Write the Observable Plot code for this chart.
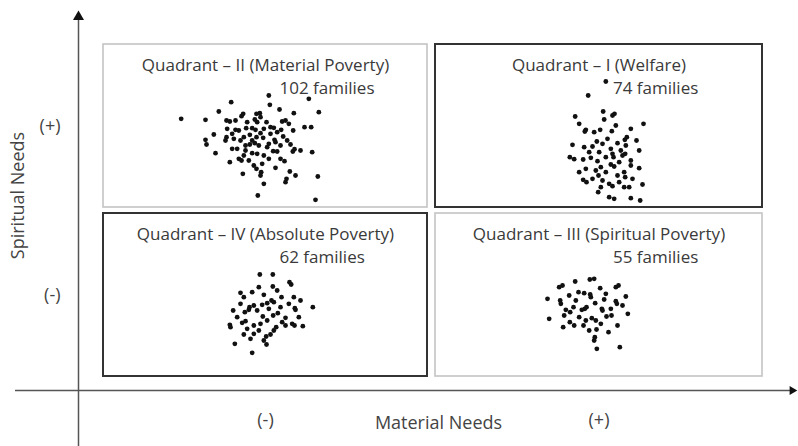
<!DOCTYPE html>
<html><head><meta charset="utf-8">
<script src="https://cdn.jsdelivr.net/npm/d3@7"></script>
<script src="https://cdn.jsdelivr.net/npm/@observablehq/plot@0.6"></script>
<style>body{margin:0;background:#fff} svg{display:block}</style>
</head><body><div id="chart"></div>
<script>
// ---- data ----
const quadrantTitles = ["Quadrant – II (Material Poverty)", "Quadrant – I (Welfare)", "Quadrant – IV (Absolute Poverty)", "Quadrant – III (Spiritual Poverty)"];
const familyCounts = [102, 74, 62, 55];
const materialLevel = ["(-)", "(+)", "(-)", "(+)"];
const spiritualLevel = ["(+)", "(+)", "(-)", "(-)"];
const emphasised = [false, true, true, false];
// score ranges covered by each level (arbitrary score units, origin at the axes)
const materialRange = {"(-)": [75, 1047], "(+)": [1071, 2052]};
const spiritualRange = {"(+)": [549, 1038], "(-)": [42, 531]};
const axisTicks = ["(-)", "(+)"];

// [material score, spiritual score] of each family
const q2Families = [[308,815],[381,812],[421,837],[458,865],[571,885],[574,857],[603,843],[691,875],[721,835],[646,832],[494,830],[489,823],[534,830],[544,832],[529,813],[564,805],[611,807],[621,810],[444,810],[454,807],[406,768],[446,785],[444,760],[471,782],[481,780],[503,787],[521,787],[531,782],[586,788],[608,782],[644,780],[678,790],[698,790],[381,752],[384,738],[466,755],[496,760],[486,750],[514,767],[546,772],[554,758],[576,770],[614,762],[588,752],[636,738],[648,724],[643,717],[514,738],[529,742],[541,735],[571,740],[476,725],[501,720],[521,712],[536,710],[556,705],[584,718],[596,717],[411,712],[701,715],[454,685],[481,695],[489,690],[511,690],[551,680],[618,688],[534,665],[548,655],[546,645],[591,668],[634,657],[651,645],[624,635],[621,625],[493,650],[556,620],[718,642],[538,585],[711,572],[566,730],[591,745],[506,805],[471,810],[626,750],[534,760],[461,770],[441,750],[521,750],[576,790],[596,775],[556,785],[501,735],[536,805],[606,735],[461,725],[571,695],[526,675],[606,695],[666,720],[496,705],[631,800],[546,820]];
const q1Families = [[1582,927],[1529,885],[1490,822],[1574,837],[1577,813],[1602,825],[1608,830],[1695,800],[1522,782],[1519,777],[1565,782],[1600,778],[1657,785],[1645,760],[1639,752],[1482,737],[1517,730],[1555,747],[1572,740],[1597,725],[1617,742],[1642,735],[1682,720],[1474,700],[1487,694],[1514,693],[1537,698],[1562,715],[1557,688],[1602,710],[1605,700],[1632,705],[1640,710],[1657,690],[1657,675],[1682,667],[1522,665],[1552,660],[1560,645],[1597,678],[1607,672],[1617,645],[1637,655],[1640,640],[1514,632],[1524,625],[1572,630],[1592,620],[1602,613],[1637,610],[1692,618],[1559,595],[1592,580],[1607,575],[1657,577],[1685,570],[1542,732],[1582,700],[1567,670],[1622,685],[1532,715],[1587,755],[1547,775],[1627,720],[1582,655],[1567,610],[1622,625],[1502,655],[1662,635],[1542,635],[1674,750],[1502,800],[1612,795],[1652,610]];
const q4Families = [[544,348],[583,348],[583,312],[633,325],[638,318],[486,293],[521,295],[556,287],[579,270],[609,280],[646,280],[703,250],[649,247],[651,242],[464,240],[499,235],[513,250],[526,255],[551,257],[566,262],[586,265],[511,242],[553,222],[584,225],[598,232],[621,218],[454,197],[456,190],[491,203],[501,208],[526,195],[541,180],[496,168],[526,170],[563,162],[576,168],[593,190],[621,195],[641,200],[648,195],[673,193],[469,140],[521,113],[564,138],[536,240],[566,210],[611,205],[476,220],[506,185],[571,245],[596,300],[631,260],[546,200],[661,220],[516,155],[586,180],[541,310],[486,260],[606,250],[496,280],[556,150],[666,270]];
const q3Families = [[1407,275],[1412,215],[1442,310],[1452,315],[1490,327],[1534,333],[1547,335],[1565,307],[1612,310],[1620,315],[1642,282],[1445,270],[1447,260],[1472,285],[1500,295],[1517,292],[1535,288],[1537,280],[1550,262],[1577,273],[1612,268],[1615,260],[1462,242],[1475,235],[1485,250],[1510,242],[1519,245],[1524,250],[1570,245],[1572,240],[1584,222],[1599,225],[1648,230],[1540,217],[1552,210],[1474,205],[1487,195],[1454,190],[1515,195],[1554,183],[1590,175],[1617,195],[1549,160],[1547,150],[1555,125],[1624,130],[1502,220],[1582,290],[1492,270],[1522,210],[1597,245],[1567,200],[1632,255],[1457,225],[1532,180]];

// ---- tables built from the arrays ----
const quadrants = quadrantTitles.map((title, i) => ({
  title, count: familyCounts[i], material: materialLevel[i], spiritual: spiritualLevel[i], emphasised: emphasised[i]
}));
const families = [q2Families, q1Families, q4Families, q3Families].flatMap((arr, i) =>
  arr.map(([m, s]) => ({material: m, spiritual: s, quadrant: quadrantTitles[i]})));
const mid = r => (r[0] + r[1]) / 2;
const xTickValues = axisTicks.map(k => mid(materialRange[k]));
const yTickValues = axisTicks.map(k => mid(spiritualRange[k]));
const xLabelOf = v => axisTicks[xTickValues.indexOf(v)];
const yLabelOf = v => axisTicks[yTickValues.indexOf(v)];

const FONT = "'Open Sans', 'Noto Sans', sans-serif";
const boxAttrs = (emph) => ({
  x1: d => materialRange[d.material][0], x2: d => materialRange[d.material][1],
  y1: d => spiritualRange[d.spiritual][0], y2: d => spiritualRange[d.spiritual][1],
  fill: "white", stroke: emph ? "#333" : "#c4c4c4", strokeWidth: emph ? 2 : 1.6,
  filter: d => d.emphasised === emph
});

const chart = Plot.plot({
  width: 798, height: 446,
  marginLeft: 78, marginRight: 0, marginTop: 0, marginBottom: 56,
  style: {fontFamily: FONT, fontSize: "18px", color: "#444", background: "white"},
  x: {domain: [0, 2160], ticks: xTickValues, tickFormat: xLabelOf, tickSize: 0, tickPadding: 23,
      label: "Material Needs", labelAnchor: "center", labelOffset: 38, labelArrow: false},
  y: {domain: [0, 1170], ticks: yTickValues, tickFormat: yLabelOf, tickSize: 0, tickPadding: 18,
      label: "Spiritual Needs", labelAnchor: "center", labelOffset: 67, labelArrow: false},
  marks: [
    // axis lines with arrow heads
    Plot.ruleY([0], {x1: -189, x2: 2140, stroke: "#555", strokeWidth: 1.3}),
    Plot.ruleX([0], {y1: -168, y2: 1125, stroke: "#555", strokeWidth: 1.5}),
    Plot.dot([0], {x: 0, y: 1121, symbol: "triangle", r: 4.1, fill: "#111", stroke: "none"}),
    Plot.dot([0], {x: 2141, y: 0, symbol: "triangle", r: 3.3, rotate: 90, fill: "#111", stroke: "none"}),
    // quadrant boxes
    Plot.rect(quadrants, boxAttrs(false)),
    Plot.rect(quadrants, boxAttrs(true)),
    // titles and counts
    Plot.text(quadrants, {x: d => mid(materialRange[d.material]), y: d => spiritualRange[d.spiritual][1],
      text: "title", dy: 21, fontSize: 17, fill: "#3a3a3a"}),
    Plot.text(quadrants, {x: d => mid(materialRange[d.material]), y: d => spiritualRange[d.spiritual][1],
      text: d => `${d.count} families`, dy: 44, dx: 14, textAnchor: "start", fontSize: 17, fill: "#3a3a3a"}),
    // families
    Plot.dot(families, {x: "material", y: "spiritual", r: 2.4, fill: "#111", stroke: "none"})
  ]
});
document.getElementById("chart").appendChild(chart);
</script></body></html>
